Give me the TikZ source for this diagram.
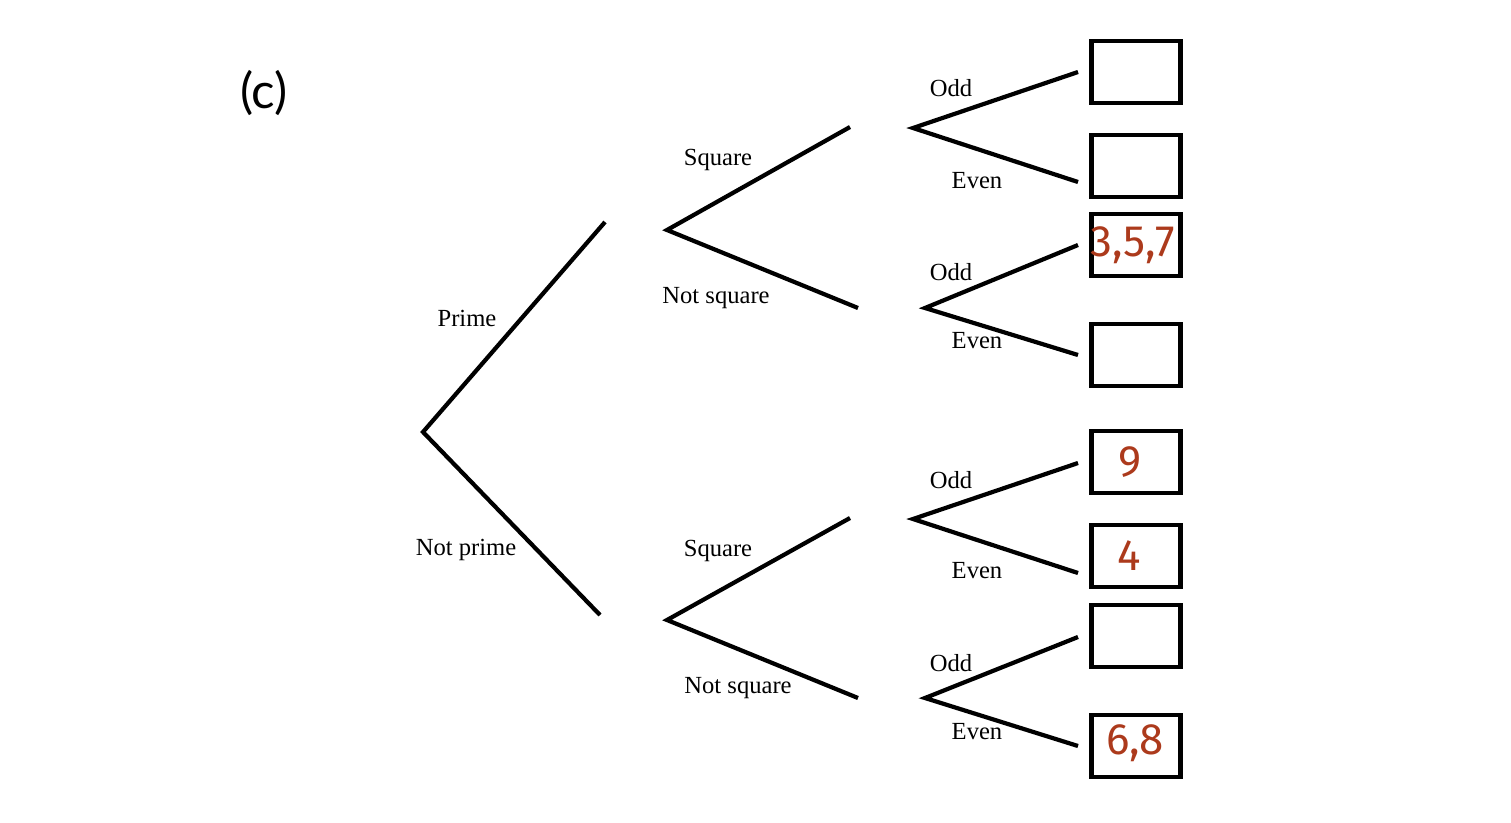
\documentclass[tikz,border=0pt]{standalone}
\usepackage{fontspec}
\setmainfont{Liberation Serif}
\newfontfamily\handfont{Fira Sans}
\newfontfamily\tagfont{Lato}
\definecolor{handred}{RGB}{172,58,28}
\tikzset{
  branch/.style={line width=2.4pt},
  leafbox/.style={draw,line width=2.8pt,minimum width=1.78cm,minimum height=1.24cm,inner sep=0pt},
  lab/.style={font=\fontsize{14}{16}\selectfont,inner sep=0pt},
  hand/.style={font=\handfont\fontsize{25}{28}\selectfont,text=handred,inner sep=0pt}
}
\begin{document}
\begin{tikzpicture}[x=0.02cm,y=-0.02cm]
    \useasboundingbox (0,0) rectangle (1511,822);
    \node[font=\tagfont\fontsize{28}{32}\selectfont] (tag) at (264,93) {(c)};
    % first and second level
    \coordinate (root) at (423,432);
    \coordinate (p) at (605,222);
    \coordinate (np) at (600,615);
    \draw[branch] (p) -- (root) -- (np);
    \coordinate (s1) at (667,230);
    \coordinate (s2) at (667,620);
    \coordinate (s1a) at (850,127);
    \coordinate (s1b) at (858,308);
    \coordinate (s2a) at (850,518);
    \coordinate (s2b) at (858,698);
    \draw[branch] (s1a) -- (s1) -- (s1b);
    \draw[branch] (s2a) -- (s2) -- (s2b);
    % third level and boxes
    \foreach \i/\vx/\vy/\ya/\yb in {1/913/128/72/182,2/925/308/245/355,3/913/519/463/573,4/925/698/637/746} {
      \coordinate (v\i) at (\vx,\vy);
      \coordinate (v\i a) at (1078,\ya);
      \coordinate (v\i b) at (1078,\yb);
      \draw[branch] (v\i a) -- (v\i) -- (v\i b);
    }
    \foreach \i/\y in {1/72,2/166,3/245,4/355,5/462,6/556,7/636,8/746}
      \node[leafbox] (box\i) at (1136,\y) {};
    % labels
    \node[lab] (lp) at (467,318) {Prime};
    \node[lab] (lnp) at (466,550) {Not prime};
    \node[lab] (ls1) at (718,160) {Square};
    \node[lab] (lns1) at (716,298) {Not square};
    \node[lab] (ls2) at (718,551) {Square};
    \node[lab] (lns2) at (738,688) {Not square};
    \foreach \i/\yo/\ye in {1/88/181,2/272/341,3/480/571,4/663/732} {
      \node[lab] (odd\i) at (951,\yo) {Odd};
      \node[lab] (even\i) at (977,\ye) {Even};
    }
    % written answers
    \node[hand] (n3) at (1133,245) {3,5,7};
    \node[hand] (n5) at (1130,462) {9};
    \node[hand] (n6) at (1129,556) {4};
    \node[hand] (n8) at (1135,743) {6,8};
\end{tikzpicture}
\end{document}
